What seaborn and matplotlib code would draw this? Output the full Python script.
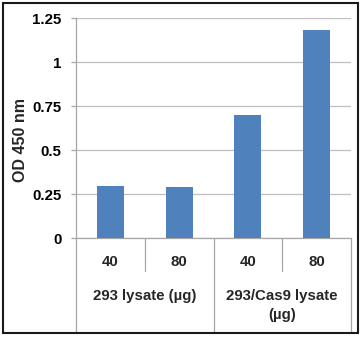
import matplotlib
matplotlib.use("Agg")
import matplotlib.pyplot as plt
import matplotlib.transforms as mtransforms
from matplotlib.patches import Rectangle
import seaborn as sns
import pandas as pd

# Data
doses = ["40", "80", "40", "80"]
groups = ["293 lysate (µg)", "293/Cas9 lysate\n(µg)"]
group_of_bar = [0, 0, 1, 1]
od450 = [0.295, 0.29, 0.70, 1.18]
yticks = [0, 0.25, 0.5, 0.75, 1, 1.25]
ytick_labels = ["0", "0.25", "0.5", "0.75", "1", "1.25"]
ylabel = "OD 450 nm"

sns.set_theme(style="white")
plt.rcParams['font.family'] = ['Liberation Sans', 'DejaVu Sans']
plt.rcParams['font.weight'] = 'bold'

fig = plt.figure(figsize=(3.6, 3.38), dpi=100)
ax = fig.add_axes([76/360, 100/338, 275/360, 220/338])

df = pd.DataFrame({"idx": list(range(len(od450))), "val": od450})
sns.barplot(data=df, x="idx", y="val", color="#4F81BD", saturation=1,
            width=0.39, ax=ax, zorder=3, edgecolor="none")

FS = 10.8
ax.set_xlim(-0.5, len(od450) - 0.5)
ax.set_ylim(0, 1.25)
ax.set_yticks(yticks)
ax.set_yticklabels(ytick_labels, fontsize=FS, fontweight='bold', color='black')
ax.set_xticks([])
ax.set_xlabel("")
ax.set_ylabel(ylabel, fontsize=11.5, fontweight='bold')
ax.yaxis.set_label_coords(-0.175, 0.445)
ax.yaxis.grid(True, color="#BFBFBF", linewidth=0.9, zorder=0)
ax.set_axisbelow(True)
ax.tick_params(axis='y', which='major', left=True, length=3.6, width=0.9,
               color="#A6A6A6", pad=7)
for s in ["top", "right"]:
    ax.spines[s].set_visible(False)
ax.spines["left"].set_color("#A6A6A6")
ax.spines["left"].set_linewidth(0.9)
ax.spines["bottom"].set_color("#A6A6A6")
ax.spines["bottom"].set_linewidth(0.9)

trans = mtransforms.blended_transform_factory(ax.transData, ax.transAxes)
y_bottom = (238 - 333) / 220
y_short = (238 - 271) / 220
n = len(od450)
# separators
for i in range(n + 1):
    xpos = i - 0.5
    full = (i == 0 or i == n or group_of_bar[i - 1] != group_of_bar[i])
    yb = y_bottom if full else y_short
    ax.plot([xpos, xpos], [0, yb], transform=trans, color="#A6A6A6",
            linewidth=0.9, clip_on=False)

# dose labels
for i, d in enumerate(doses):
    ax.text(i, (238 - 262) / 220, d, transform=trans, ha='center', va='center',
            fontsize=FS, fontweight='bold')
# group labels
for g, name in enumerate(groups):
    members = [i for i in range(n) if group_of_bar[i] == g]
    xc = (members[0] + members[-1]) / 2
    ax.text(xc, (238 - 289) / 220, name, transform=trans, ha='center', va='top',
            fontsize=FS, fontweight='bold', linespacing=1.45)

# outer border
fig.patches.append(Rectangle((3/360, 5/338), 355/360, 330/338, transform=fig.transFigure,
                             fill=False, edgecolor="#1a1a1a", linewidth=1.5))

fig.savefig("out.png", dpi=100)
